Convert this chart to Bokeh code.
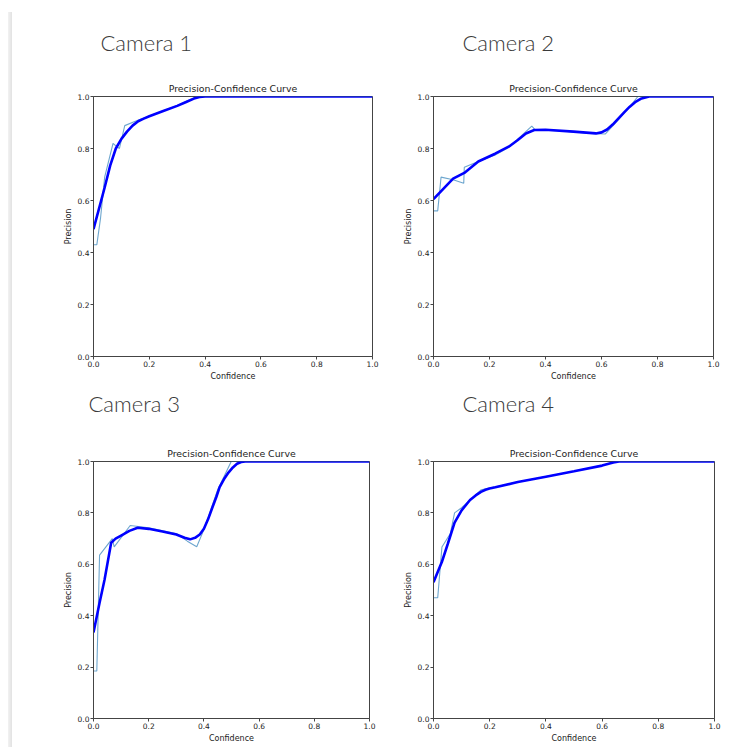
from bokeh.plotting import figure
from bokeh.models import Range1d, FixedTicker, PrintfTickFormatter, Title, Div
from bokeh.layouts import row, column
from bokeh.embed import file_html
from bokeh.resources import INLINE

# ---------------- data ----------------
cameras = ["Camera 1", "Camera 2", "Camera 3", "Camera 4"]
ticks = [0.0, 0.2, 0.4, 0.6, 0.8, 1.0]

c1_raw_x = [0.0, 0.012, 0.025, 0.04, 0.07, 0.08, 0.093, 0.112, 0.15, 0.20, 0.30, 0.37, 1.0]
c1_raw_y = [0.43, 0.43, 0.53, 0.69, 0.82, 0.81, 0.80, 0.888, 0.905, 0.925, 0.965, 1.0, 1.0]
c1_sm_x = [0.0, 0.02, 0.04, 0.06, 0.08, 0.10, 0.12, 0.14, 0.16, 0.18, 0.20, 0.25, 0.30, 0.33, 0.36, 0.38, 0.40, 1.0]
c1_sm_y = [0.49, 0.57, 0.65, 0.735, 0.80, 0.837, 0.865, 0.888, 0.905, 0.915, 0.924, 0.944, 0.964, 0.978, 0.992, 0.998, 1.0, 1.0]

c2_raw_x = [0.0, 0.015, 0.027, 0.07, 0.108, 0.11, 0.16, 0.22, 0.27, 0.32, 0.351, 0.365, 0.45, 0.56, 0.614, 0.66, 0.70, 0.73, 1.0]
c2_raw_y = [0.56, 0.56, 0.69, 0.68, 0.666, 0.728, 0.75, 0.775, 0.805, 0.855, 0.886, 0.87, 0.868, 0.858, 0.856, 0.91, 0.96, 1.0, 1.0]
c2_sm_x = [0.0, 0.035, 0.07, 0.11, 0.16, 0.22, 0.27, 0.30, 0.33, 0.36, 0.40, 0.50, 0.58, 0.60, 0.62, 0.64, 0.66, 0.68, 0.70, 0.72, 0.74, 0.77, 1.0]
c2_sm_y = [0.605, 0.645, 0.684, 0.706, 0.75, 0.78, 0.808, 0.832, 0.858, 0.871, 0.872, 0.865, 0.858, 0.862, 0.873, 0.892, 0.915, 0.938, 0.96, 0.978, 0.991, 1.0, 1.0]

c3_raw_x = [0.0, 0.012, 0.022, 0.068, 0.075, 0.133, 0.20, 0.30, 0.34, 0.374, 0.40, 0.45, 0.499, 1.0]
c3_raw_y = [0.185, 0.185, 0.636, 0.70, 0.668, 0.751, 0.742, 0.72, 0.69, 0.668, 0.735, 0.89, 1.0, 1.0]
c3_sm_x = [0.0, 0.022, 0.04, 0.064, 0.08, 0.10, 0.13, 0.16, 0.20, 0.25, 0.30, 0.33, 0.35, 0.368, 0.385, 0.40, 0.415, 0.43, 0.445, 0.457, 0.475, 0.489, 0.505, 0.52, 0.535, 0.55, 1.0]
c3_sm_y = [0.335, 0.45, 0.54, 0.684, 0.700, 0.712, 0.73, 0.742, 0.738, 0.728, 0.716, 0.703, 0.697, 0.703, 0.716, 0.738, 0.775, 0.819, 0.862, 0.90, 0.935, 0.957, 0.977, 0.991, 0.998, 1.0, 1.0]

c4_raw_x = [0.0, 0.015, 0.03, 0.06, 0.075, 0.10, 0.13, 0.17, 0.20, 0.30, 0.40, 0.50, 0.60, 0.65, 1.0]
c4_raw_y = [0.47, 0.47, 0.667, 0.72, 0.80, 0.82, 0.85, 0.89, 0.897, 0.92, 0.941, 0.962, 0.985, 1.0, 1.0]
c4_sm_x = [0.0, 0.03, 0.051, 0.075, 0.10, 0.13, 0.15, 0.169, 0.185, 0.199, 0.22, 0.30, 0.40, 0.50, 0.60, 0.64, 0.66, 1.0]
c4_sm_y = [0.53, 0.61, 0.68, 0.762, 0.81, 0.85, 0.868, 0.882, 0.89, 0.895, 0.90, 0.92, 0.941, 0.962, 0.984, 0.996, 1.0, 1.0]


def make_fig(cam, rx, ry, sx, sy, w, h, bl, bt, br, bb, cam_offset, gap):
    p = figure(width=w, height=h, output_backend="svg", toolbar_location=None,
               x_range=Range1d(0, 1), y_range=Range1d(0, 1),
               min_border_left=bl, min_border_top=bt, min_border_right=br,
               min_border_bottom=bb, background_fill_color="white",
               border_fill_color="white")
    # outer (camera) title
    p.title.text = cam
    p.title.text_font = "'Lato Light', Lato"
    p.title.text_font_size = "22px"
    p.title.text_font_style = "normal"
    p.title.text_color = "#3a3a3a"
    p.title.align = "left"
    p.title.offset = cam_offset
    p.title.standoff = 0
    # inner title right above the frame (first added = closest to the frame)
    p.add_layout(Title(text="Precision-Confidence Curve", text_font="DejaVu Sans",
                       text_font_size="9.4px", text_font_style="normal",
                       text_color="#222222", align="center", standoff=5), "above")
    # blank spacer between the two titles (white, 1px)
    p.add_layout(Title(text=" ", text_font_size="1px", text_color="white",
                       standoff=gap), "above")
    p.grid.visible = False
    p.outline_line_color = "#444444"
    p.outline_line_width = 1
    for ax in (p.xaxis[0], p.yaxis[0]):
        ax.ticker = FixedTicker(ticks=ticks, minor_ticks=[])
        ax.formatter = PrintfTickFormatter(format="%.1f")
        ax.major_label_text_font = "DejaVu Sans"
        ax.major_label_text_font_size = "7.5px"
        ax.major_label_text_color = "#222222"
        ax.axis_label_text_font = "DejaVu Sans"
        ax.axis_label_text_font_size = "8px"
        ax.axis_label_text_font_style = "normal"
        ax.axis_label_text_color = "#222222"
        ax.axis_line_color = "#444444"
        ax.major_tick_line_color = "#444444"
        ax.major_tick_out = 3
        ax.major_tick_in = 0
        ax.major_label_standoff = 1
        ax.axis_label_standoff = 2
    p.xaxis.axis_label = "Confidence"
    p.yaxis.axis_label = "Precision"
    p.line(rx, ry, line_color="#1f77b4", line_alpha=0.65, line_width=1.1)
    p.line(sx, sy, line_color="blue", line_width=2.6)
    return p


f1 = make_fig(cameras[0], c1_raw_x, c1_raw_y, c1_sm_x, c1_sm_y, 388, 384, 81, 96, 28, 28, 7, 20)
f2 = make_fig(cameras[1], c2_raw_x, c2_raw_y, c2_sm_x, c2_sm_y, 321, 384, 32, 96, 8, 25, 29, 20)
f3 = make_fig(cameras[2], c3_raw_x, c3_raw_y, c3_sm_x, c3_sm_y, 388, 363, 81, 76, 31, 29, -5, 24)
f4 = make_fig(cameras[3], c4_raw_x, c4_raw_y, c4_sm_x, c4_sm_y, 321, 363, 32, 77, 7, 24, 29, 24)

stripe = Div(text="", width=4, height=735, margin=(12, 0, 0, 8),
             styles={"background": "linear-gradient(to right, #f2f2f2, #e2e2e2)"})

grid = column(row(f1, f2, spacing=0), row(f3, f4, spacing=0), spacing=0)
layout = row(stripe, grid, spacing=0)

open("out.html", "w").write(file_html(layout, INLINE))
